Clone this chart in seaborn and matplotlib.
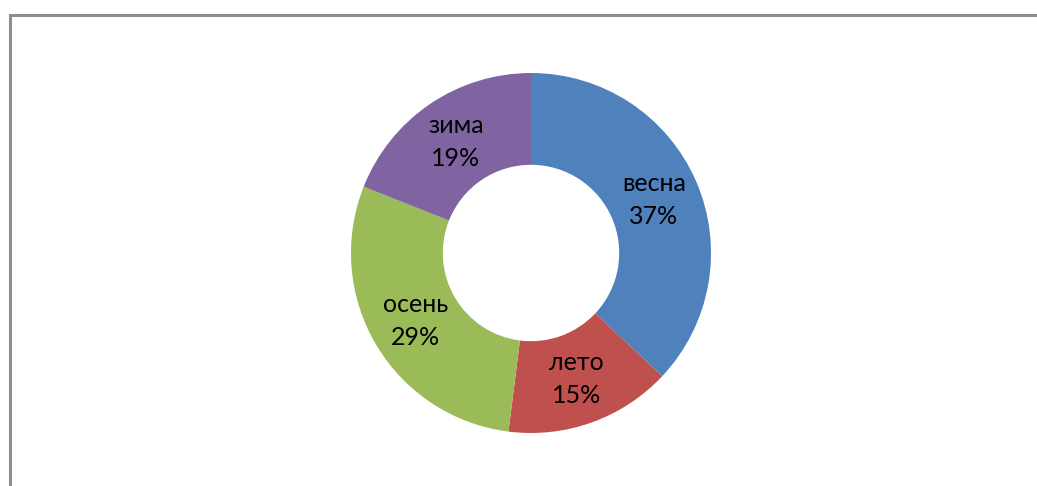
import matplotlib
matplotlib.use("Agg")
import matplotlib.pyplot as plt
from matplotlib.patches import Rectangle
import seaborn as sns

# Данные
seasons = ['весна', 'лето', 'осень', 'зима']
shares = [37, 15, 29, 19]
colors = ['#4F81BD', '#C0504D', '#9BBB59', '#8064A2']

sns.set_style('white')
plt.rcParams['font.family'] = ['Lato', 'DejaVu Sans']

W, H = 1037, 486
fig = plt.figure(figsize=(W / 100, H / 100), dpi=100)
fig.patch.set_facecolor('white')

# рамка области диаграммы
fig.patches.append(Rectangle((9.5 / W, -0.1), 1.2, 1 - 15.5 / H + 0.1,
                             transform=fig.transFigure, fill=False,
                             edgecolor='#8e8e8e', linewidth=2.2))

cx, cy, r = 531, H - 253, 180
ax = fig.add_axes([(cx - r) / W, (cy - r) / H, 2 * r / W, 2 * r / H])

labels_iter = iter(seasons)


def fmt(pct):
    return '{}\n{:.0f}%'.format(next(labels_iter), pct)


wedges, texts = ax.pie(shares, colors=colors, startangle=90, counterclock=False,
                       radius=1, autopct=fmt, pctdistance=0.744,
                       wedgeprops=dict(width=0.51, linewidth=0),
                       textprops=dict(fontsize=18, color='black', linespacing=1.5))[:2]
ax.set_xlim(-1, 1)
ax.set_ylim(-1, 1)
ax.axis('off')

fig.savefig('out.png', dpi=100)
